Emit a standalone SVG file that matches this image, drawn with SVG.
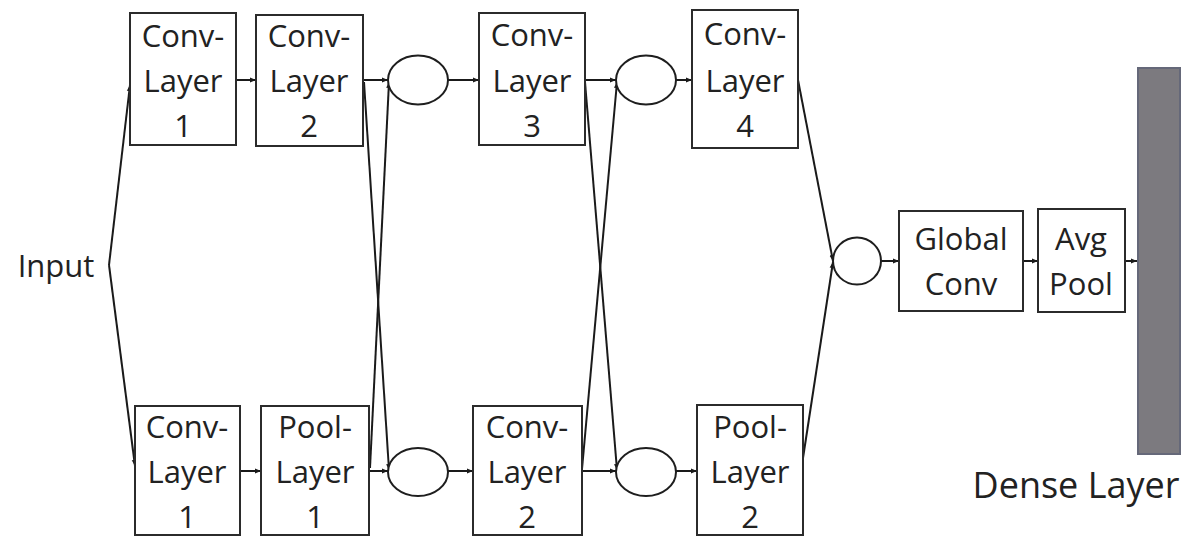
<svg xmlns="http://www.w3.org/2000/svg" width="1190" height="537" viewBox="0 0 1190 537">
  <style>
    .box { fill: #ffffff; stroke: #2b2b2b; stroke-width: 2; }
    .join { fill: #ffffff; stroke: #1e1e1e; stroke-width: 2; }
    .lbl { font-family: "Open Sans", "Liberation Sans", sans-serif; font-size: 31px; fill: #222222; text-anchor: middle; }
    .big { font-size: 36px; }
    .edge { stroke: #1a1a1a; stroke-width: 2; fill: none; marker-end: url(#tip); }
    .plain { stroke: #1a1a1a; stroke-width: 2; fill: none; }
  </style>
  <defs>
    <marker id="tip" markerUnits="userSpaceOnUse" markerWidth="7" markerHeight="6" refX="6" refY="3" orient="auto">
      <path d="M0,0.5 L6,3 L0,5.5 z" fill="#1a1a1a"/>
    </marker>
  </defs>

  <rect width="1190" height="537" fill="#ffffff"/>

  <!-- connectors -->
  <g id="connectors">
    <line class="edge" x1="109" y1="265" x2="130" y2="85"/>
    <line class="edge" x1="109" y1="265" x2="135" y2="466"/>
    <line class="edge" x1="236" y1="80" x2="256" y2="80"/>
    <line class="edge" x1="363" y1="80" x2="388" y2="80"/>
    <line class="edge" x1="364" y1="82" x2="389" y2="470"/>
    <line class="edge" x1="370" y1="468" x2="389" y2="82"/>
    <line class="edge" x1="369" y1="471" x2="388" y2="471"/>
    <line class="edge" x1="240" y1="471" x2="261" y2="471"/>
    <line class="edge" x1="448" y1="80" x2="479" y2="80"/>
    <line class="edge" x1="448" y1="471" x2="473" y2="471"/>
    <line class="edge" x1="585" y1="80" x2="616" y2="80"/>
    <line class="edge" x1="585" y1="82" x2="617" y2="470"/>
    <line class="edge" x1="582" y1="469" x2="617" y2="82"/>
    <line class="edge" x1="582" y1="471" x2="616" y2="471"/>
    <line class="edge" x1="676" y1="80" x2="692" y2="80"/>
    <line class="edge" x1="676" y1="471" x2="697" y2="471"/>
    <line class="edge" x1="798" y1="80" x2="833" y2="261"/>
    <line class="edge" x1="803" y1="458" x2="833" y2="262"/>
    <line class="edge" x1="881" y1="261" x2="899" y2="261"/>
    <line class="edge" x1="1023" y1="261" x2="1038" y2="261"/>
    <line class="edge" x1="1125" y1="261" x2="1137" y2="261"/>
  </g>

  <!-- input label -->
  <g id="input">
    <text class="lbl" x="56" y="277">Input</text>
  </g>

  <!-- upper branch -->
  <g id="conv-layer-1-top">
    <rect class="box" x="130" y="13" width="106" height="132"/>
    <text class="lbl" x="183" y="47">Conv-</text>
    <text class="lbl" x="183" y="92">Layer</text>
    <text class="lbl" x="183" y="137">1</text>
  </g>
  <g id="conv-layer-2-top">
    <rect class="box" x="256" y="15" width="107" height="131"/>
    <text class="lbl" x="309" y="47">Conv-</text>
    <text class="lbl" x="309" y="92">Layer</text>
    <text class="lbl" x="309" y="137">2</text>
  </g>
  <g id="merge-top-1">
    <ellipse class="join" cx="418" cy="80" rx="30" ry="24.5"/>
  </g>
  <g id="conv-layer-3-top">
    <rect class="box" x="479" y="13" width="106" height="132"/>
    <text class="lbl" x="532" y="46">Conv-</text>
    <text class="lbl" x="532" y="92">Layer</text>
    <text class="lbl" x="532" y="137">3</text>
  </g>
  <g id="merge-top-2">
    <ellipse class="join" cx="646" cy="80" rx="30" ry="24.5"/>
  </g>
  <g id="conv-layer-4-top">
    <rect class="box" x="692" y="10" width="106" height="138"/>
    <text class="lbl" x="745" y="45">Conv-</text>
    <text class="lbl" x="745" y="92">Layer</text>
    <text class="lbl" x="745" y="137">4</text>
  </g>

  <!-- lower branch -->
  <g id="conv-layer-1-bottom">
    <rect class="box" x="135" y="406" width="105" height="129"/>
    <text class="lbl" x="187" y="438">Conv-</text>
    <text class="lbl" x="187" y="483">Layer</text>
    <text class="lbl" x="187" y="528">1</text>
  </g>
  <g id="pool-layer-1-bottom">
    <rect class="box" x="261" y="406" width="108" height="129"/>
    <text class="lbl" x="315" y="438">Pool-</text>
    <text class="lbl" x="315" y="483">Layer</text>
    <text class="lbl" x="315" y="528">1</text>
  </g>
  <g id="merge-bottom-1">
    <ellipse class="join" cx="418" cy="472" rx="30" ry="24"/>
  </g>
  <g id="conv-layer-2-bottom">
    <rect class="box" x="473" y="406" width="109" height="129"/>
    <text class="lbl" x="527" y="438">Conv-</text>
    <text class="lbl" x="527" y="483">Layer</text>
    <text class="lbl" x="527" y="528">2</text>
  </g>
  <g id="merge-bottom-2">
    <ellipse class="join" cx="646" cy="472" rx="30" ry="24"/>
  </g>
  <g id="pool-layer-2-bottom">
    <rect class="box" x="697" y="405" width="106" height="130"/>
    <text class="lbl" x="750" y="438">Pool-</text>
    <text class="lbl" x="750" y="483">Layer</text>
    <text class="lbl" x="750" y="528">2</text>
  </g>

  <!-- head -->
  <g id="merge-final">
    <ellipse class="join" cx="857" cy="261" rx="24" ry="23.5"/>
  </g>
  <g id="global-conv">
    <rect class="box" x="899" y="211" width="124" height="100"/>
    <text class="lbl" x="961" y="250">Global</text>
    <text class="lbl" x="961" y="295">Conv</text>
  </g>
  <g id="avg-pool">
    <rect class="box" x="1038" y="209" width="87" height="103"/>
    <text class="lbl" x="1081" y="250">Avg</text>
    <text class="lbl" x="1081" y="295">Pool</text>
  </g>
  <g id="dense-layer">
    <rect x="1138" y="68" width="42" height="386" fill="#7c7a7f" stroke="#656879" stroke-width="2"/>
    <text class="lbl big" x="1076" y="498">Dense Layer</text>
  </g>
</svg>
